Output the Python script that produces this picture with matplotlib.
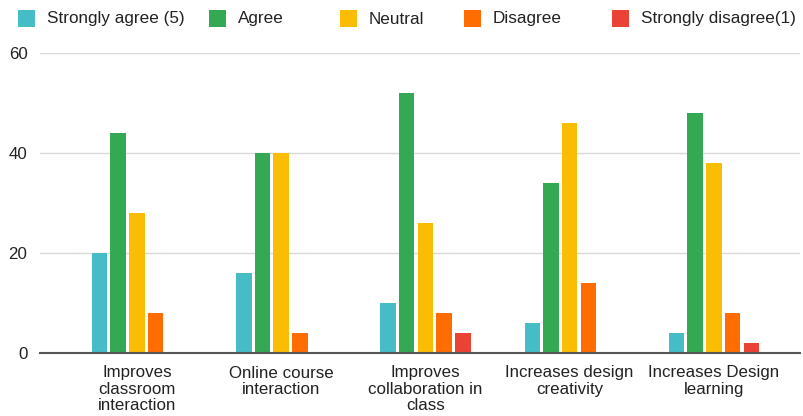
import numpy as np
import matplotlib.pyplot as plt
from matplotlib.patches import Rectangle

plt.rcParams['font.family'] = ['Liberation Sans', 'DejaVu Sans']

categories = ['Improves\nclassroom\ninteraction', 'Online course\ninteraction',
              'Improves\ncollaboration in\nclass', 'Increases design\ncreativity',
              'Increases Design\nlearning']
series_names = ['Strongly agree (5)', 'Agree', 'Neutral', 'Disagree', 'Strongly disagree(1)']
strongly_agree = [20, 16, 10, 6, 4]
agree = [44, 40, 52, 34, 48]
neutral = [28, 40, 26, 46, 38]
disagree = [8, 4, 8, 14, 8]
strongly_disagree = [0, 0, 4, 0, 2]
colors = ['#46bdc6', '#34a853', '#fbbc04', '#ff6d01', '#ea4335']

series = [strongly_agree, agree, neutral, disagree, strongly_disagree]

W, H = 804, 416
fig = plt.figure(figsize=(W / 100, H / 100), dpi=100)
ax = fig.add_axes([40 / W, 1 - 353 / H, 760 / W, 300 / H])

x = np.arange(len(categories))
pitch = 0.1296
for i, (vals, col) in enumerate(zip(series, colors)):
    ax.bar(x + (i - 2) * pitch, vals, 0.1075, color=col, zorder=3)

ax.set_xlim(-0.672, 4.597)
ax.set_ylim(0, 60)
ax.set_yticks([0, 20, 40, 60])
ax.yaxis.grid(True, color='#d9d9d9', linewidth=1, zorder=0)
ax.set_xticks(x)
ax.set_xticklabels(categories, fontsize=12.2, linespacing=1.1, color='#222222')
ax.tick_params(axis='both', length=0, labelsize=12.2, colors='#222222')
ax.tick_params(axis='y', pad=9)
ax.tick_params(axis='x', pad=9)
for s in ['top', 'right', 'left']:
    ax.spines[s].set_visible(False)
ax.spines['bottom'].set_color('#555555')
ax.spines['bottom'].set_linewidth(1.5)
ax.spines['bottom'].set_zorder(4)

# legende dessinee a la main (espacement irregulier comme dans Google Sheets)
square_x = [18, 209, 340, 464, 612]
for sx, name, col in zip(square_x, series_names, colors):
    fig.add_artist(Rectangle((sx / W, 1 - 27 / H), 17 / W, 17 / H,
                             transform=fig.transFigure, facecolor=col, edgecolor='none'))
    fig.text((sx + 29) / W, 1 - 19 / H, name, fontsize=12.3, color='#222222',
             ha='left', va='center')

fig.savefig('out.png', dpi=100)
